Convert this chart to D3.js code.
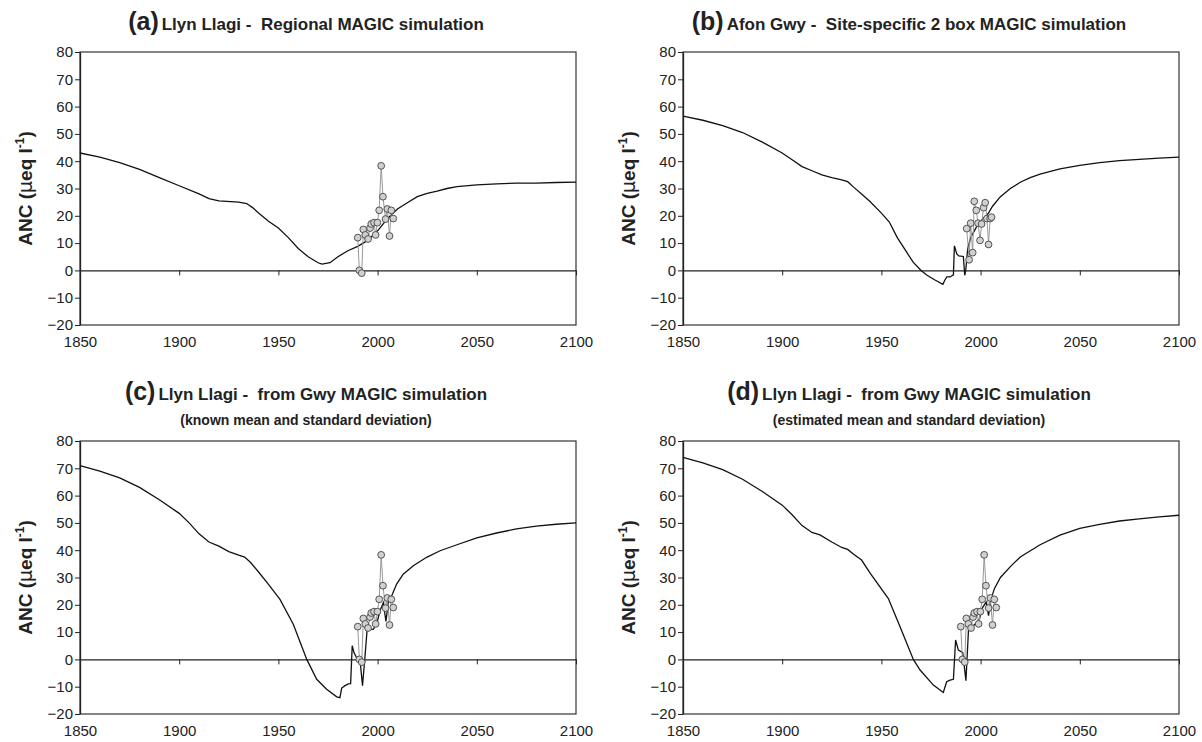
<!DOCTYPE html>
<html><head><meta charset="utf-8">
<script src="https://cdn.jsdelivr.net/npm/d3@7"></script>
<style>
body{margin:0;background:#fff;}
svg{font-family:"Liberation Sans",Arial,sans-serif;}
text{white-space:pre;}
</style></head>
<body><svg id="c" width="1202" height="742"></svg>
<script>
// ---- data ----
const yTicks = [-20,-10,0,10,20,30,40,50,60,70,80];
const xTicks = [1850,1900,1950,2000,2050,2100];

const yearsA = [1850,1860,1870,1880,1890,1900,1910,1915,1920,1930,1934,1937,1940,1945,1950,1955,1960,1965,1970,1972,1976,1980,1985,1990,1995,2000,2005,2010,2015,2020,2025,2030,2035,2040,2050,2060,2070,2080,2090,2100];
const ancA   = [43,41.5,39.5,37,34,31,28,26.3,25.5,25,24.5,23,21,18,15.5,12,8,5,2.8,2.3,2.8,5,7.2,8.8,11,14.5,19,22.5,24.8,27,28.2,29,30,30.7,31.3,31.7,32,32,32.2,32.3];

const yearsB = [1850,1860,1870,1880,1890,1900,1905,1910,1915,1920,1925,1930,1933,1936,1940,1944,1950,1954,1958,1962,1966,1970,1973,1977,1981,1982,1983,1984.6,1986.3,1986.8,1988,1989,1991.3,1992,1992.5,1993.5,1995,1996.5,1998,2000,2002,2004,2006,2010,2015,2020,2025,2030,2040,2050,2060,2070,2080,2090,2100];
const ancB   = [56.5,55,53,50.5,47,43,40.5,38,36.5,35,34,33.2,32.5,30.5,28,25.4,21,17.7,12,7.5,3,0,-1.8,-3.5,-5.1,-3.5,-2.4,-2.4,-1.6,9,6,5.3,5.1,-1.8,0,8,12,14,16,18,19.5,21,23.5,27,30,32.3,34,35.3,37.2,38.5,39.5,40.2,40.7,41.1,41.5];

const yearsC = [1850,1860,1870,1880,1890,1900,1905,1910,1915,1920,1925,1930,1933,1936,1940,1945,1950.8,1957.5,1964.3,1969.3,1974.3,1979.4,1981,1981.9,1983.6,1985.2,1986.4,1987.2,1988.1,1989.4,1991.1,1992.4,1993.6,1994.8,1996.2,1997.8,1999.5,2001.2,2002.9,2004.2,2005.4,2007.1,2009.6,2012.9,2018,2024.7,2031.5,2040,2050,2060,2070,2080,2090,2100];
const ancC   = [71,69,66.5,63,58.5,53.5,50,46,43,41.5,39.5,38.2,37.5,35.5,32,27.5,22,12.9,0,-7.3,-10.9,-13.7,-14,-10.5,-9.6,-9,-8.9,5,2.5,0.6,0,-9.6,0.6,11.7,11.1,11,12.9,17.8,20.8,13.9,20.8,23.3,27.6,31.2,34.3,37.4,39.8,42,44.5,46.3,47.8,48.8,49.5,50];

const yearsD = [1850,1860,1870,1880,1890,1900,1905,1910,1915,1919,1925,1930,1933,1936,1940,1944.4,1953.5,1959.4,1966.1,1969.5,1976.2,1981.2,1982.9,1984.6,1986.3,1987.4,1988.8,1991,1992.6,1993.9,1995.5,1997.5,1999.5,2001,2002.8,2004,2005.2,2007,2010,2015,2020,2030,2040,2050,2060,2070,2080,2090,2100];
const ancD   = [74,72,69.5,66,61.5,56.5,53,49,46.5,45.6,43,41,40.3,38.5,36.4,31.5,22.3,12,0,-3.9,-9.4,-12.1,-8.2,-7.6,-7.3,7.1,3.4,2.5,-7.8,10.9,12,13,15,19,21,16,22,26,30,34,37.5,42,45.5,48,49.5,50.7,51.5,52.2,52.8];

// observed ANC
const obsYearsLlagi = [1990,1990.8,1992,1992.8,1993.8,1995.2,1996.2,1996.8,1998.2,1999,1999.9,2000.8,2001.8,2002.7,2004,2004.9,2006,2006.9,2007.9];
const obsLlagi      = [12,0,-1,15,13,11.5,15.5,17,17.5,13,17.5,22,38.3,27,18.8,22.5,12.6,22,19];
const obsYearsGwy = [1993,1994.2,1995,1996,1996.8,1997.8,1998.7,1999.7,2000.5,2001.5,2002.3,2003.2,2004,2004.8,2005.5];
const obsGwy      = [15.3,3.9,17.3,6.5,25.3,22,17.3,11,17,23,24.8,19,9.5,19,19.5];

const panels = [
  {tag:"(a)", title:"Llyn Llagi -  Regional MAGIC simulation", sub:null, yr:yearsA, v:ancA, oy:obsYearsLlagi, ov:obsLlagi, left:80, top:52},
  {tag:"(b)", title:"Afon Gwy -  Site-specific 2 box MAGIC simulation", sub:null, yr:yearsB, v:ancB, oy:obsYearsGwy, ov:obsGwy, left:683, top:52},
  {tag:"(c)", title:"Llyn Llagi -  from Gwy MAGIC simulation", sub:"(known mean and standard deviation)", yr:yearsC, v:ancC, oy:obsYearsLlagi, ov:obsLlagi, left:80, top:441},
  {tag:"(d)", title:"Llyn Llagi -  from Gwy MAGIC simulation", sub:"(estimated mean and standard deviation)", yr:yearsD, v:ancD, oy:obsYearsLlagi, ov:obsLlagi, left:683, top:441}
];

const W = 496, H = 273;
const svg = d3.select("#c");

panels.forEach(p => {
  const g = svg.append("g").attr("transform", `translate(${p.left},${p.top})`);
  const x = d3.scaleLinear().domain([1850,2100]).range([0,W]);
  const y = d3.scaleLinear().domain([-20,80]).range([H,0]);

  // frame
  g.append("rect").attr("x",0).attr("y",0).attr("width",W).attr("height",H)
    .attr("fill","none").attr("stroke","#333").attr("stroke-width",1.2);

  // y axis
  const ya = g.append("g").call(d3.axisLeft(y).tickValues(yTicks).tickSize(5).tickSizeOuter(0).tickFormat(d3.format("d")));
  ya.select(".domain").attr("stroke","#222").attr("stroke-width",1.3);
  ya.selectAll(".tick line").attr("stroke","#222");
  ya.selectAll("text").attr("font-size",15).attr("fill","#222").attr("x",-7);

  // x axis on zero line (ticks only)
  const xa = g.append("g").attr("transform",`translate(0,${y(0)})`)
    .call(d3.axisBottom(x).tickValues(xTicks).tickSize(5).tickSizeOuter(0).tickFormat(""));
  xa.select(".domain").attr("stroke","#222").attr("stroke-width",1.2);
  xa.selectAll(".tick line").attr("stroke","#222");

  // x labels at bottom
  const xl = g.append("g").attr("transform",`translate(0,${H})`)
    .call(d3.axisBottom(x).tickValues(xTicks).tickSize(0).tickFormat(d3.format("d")));
  xl.select(".domain").remove();
  xl.selectAll("text").attr("font-size",15).attr("fill","#222").attr("y",0).attr("dy","1.45em");

  // model line
  const line = d3.line().x(d=>x(d[0])).y(d=>y(d[1]));
  g.append("path").datum(p.yr.map((t,i)=>[t,p.v[i]]))
    .attr("d",line).attr("fill","none").attr("stroke","#111").attr("stroke-width",1.3);

  // observations
  const obs = p.oy.map((t,i)=>[t,p.ov[i]]);
  g.append("path").datum(obs).attr("d",line).attr("fill","none")
    .attr("stroke","#999").attr("stroke-width",1);
  g.selectAll("circle.o").data(obs).enter().append("circle")
    .attr("cx",d=>x(d[0])).attr("cy",d=>y(d[1])).attr("r",3.4)
    .attr("fill","#d0d0d0").attr("stroke","#444").attr("stroke-width",0.9);

  // y label
  const yl = g.append("text").attr("transform",`translate(-48,${H/2}) rotate(-90)`)
    .attr("text-anchor","middle").attr("font-weight","bold").attr("font-size",19).attr("fill","#222");
  yl.append("tspan").text("ANC (");
  yl.append("tspan").attr("font-family","'DejaVu Sans',sans-serif").attr("font-weight","normal").text("μ");
  yl.append("tspan").text("eq l");
  yl.append("tspan").attr("font-size",12).attr("dy",-8).text("-1");
  yl.append("tspan").attr("dy",8).text(")");

  // title
  const cx = W/2 - 22;
  const t = g.append("text").attr("x",cx).attr("y",p.sub ? -41 : -22).attr("text-anchor","middle")
    .attr("font-weight","bold").attr("fill","#222");
  t.append("tspan").attr("font-size",25).text(p.tag);
  t.append("tspan").attr("font-size",17).attr("dx",3).text(p.title);
  if (p.sub) {
    g.append("text").attr("x",cx).attr("y",-16).attr("text-anchor","middle")
      .attr("font-weight","bold").attr("font-size",14).attr("fill","#222").text(p.sub);
  }
});
</script></body></html>
